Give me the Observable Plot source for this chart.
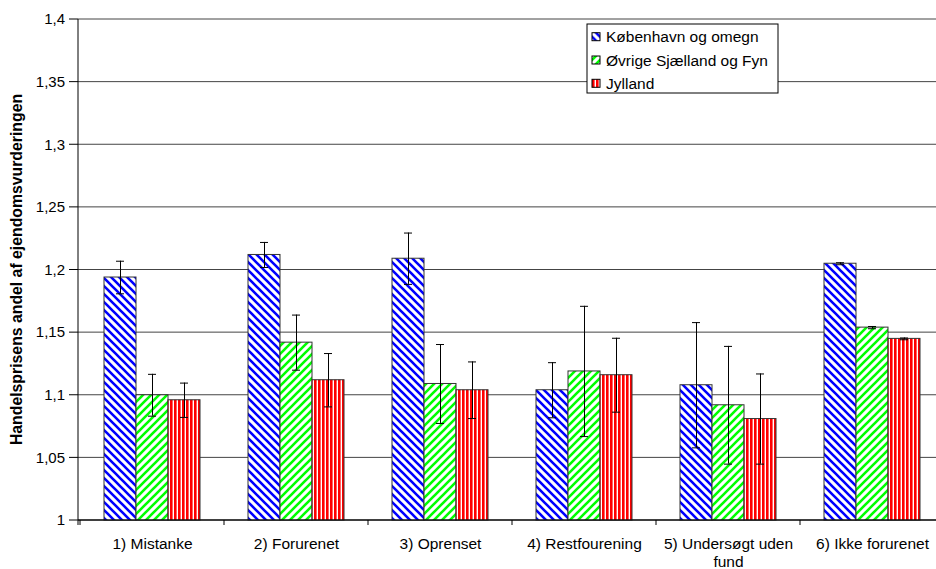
<!DOCTYPE html>
<html><head><meta charset="utf-8">
<script src="https://cdn.jsdelivr.net/npm/d3@7"></script>
<script src="https://cdn.jsdelivr.net/npm/@observablehq/plot@0.6"></script>
<style>html,body{margin:0;padding:0;background:#fff;} #chart{width:936px;height:569px;overflow:hidden;position:relative;}</style>
</head><body><div id="chart"></div>
<script>
const categories = ["1) Mistanke", "2) Forurenet", "3) Oprenset", "4) Restfourening", "5) Undersøgt uden fund", "6) Ikke forurenet"];
const categoryLabels = ["1) Mistanke", "2) Forurenet", "3) Oprenset", "4) Restfourening", "5) Undersøgt uden\nfund", "6) Ikke forurenet"];
const series = ["København og omegn", "Øvrige Sjælland og Fyn", "Jylland"];
const kbhValues = [1.194, 1.212, 1.209, 1.104, 1.108, 1.205];
const kbhErrors = [0.013, 0.010, 0.0205, 0.022, 0.050, 0.0008];
const sjfValues = [1.100, 1.142, 1.109, 1.119, 1.092, 1.154];
const sjfErrors = [0.0167, 0.022, 0.0315, 0.052, 0.047, 0.0009];
const jylValues = [1.096, 1.112, 1.104, 1.116, 1.081, 1.145];
const jylErrors = [0.0137, 0.0213, 0.0226, 0.0295, 0.036, 0.0007];
const yTicks = [1, 1.05, 1.1, 1.15, 1.2, 1.25, 1.3, 1.35, 1.4];
const yTickLabels = ["1", "1,05", "1,1", "1,15", "1,2", "1,25", "1,3", "1,35", "1,4"];
const yTitle = "Handelsprisens andel af ejendomsvurderingen";
const patternIds = ["hatchBlue", "hatchGreen", "hatchRed"];

const values = [kbhValues, sjfValues, jylValues];
const errors = [kbhErrors, sjfErrors, jylErrors];
const rows = categories.flatMap((c, i) => series.map((s, j) => ({category: c, series: s, value: values[j][i], err: errors[j][i]})));

const font = "'Liberation Sans', Arial, sans-serif";
const plot = Plot.plot({
  width: 936, height: 569,
  marginLeft: 78, marginRight: -10, marginTop: 19, marginBottom: 49,
  style: {fontFamily: font, fontSize: "15px", color: "#000", background: "#fff"},
  facet: {data: rows, x: "category"},
  fx: {domain: categories, paddingInner: 0.33, paddingOuter: 0.165, axis: null, label: null},
  x: {domain: series, padding: 0, axis: null},
  y: {domain: [1, 1.4], axis: null},
  color: {domain: series, range: patternIds.map(id => `url(#${id})`)},
  marks: [
    Plot.barY(rows, {x: "series", y1: 1, y2: "value", fill: "series", stroke: "#333", strokeWidth: 1}),
    Plot.ruleX(rows, {x: "series", y1: d => d.value - d.err, y2: d => d.value + d.err, stroke: "#000"}),
    Plot.tickY(rows, {x: "series", y: d => d.value + d.err, insetLeft: 12, insetRight: 12, stroke: "#000"}),
    Plot.tickY(rows, {x: "series", y: d => d.value - d.err, insetLeft: 12, insetRight: 12, stroke: "#000"}),
    Plot.axisFx({anchor: "bottom", tickSize: 0, tickPadding: 15, tickFormat: c => categoryLabels[categories.indexOf(c)], lineHeight: 1.2, fontSize: 15.5, label: null})
  ]
});
document.getElementById("chart").appendChild(plot);

const svg = d3.select(plot);
const defs = svg.insert("defs", ":first-child");
const pb = defs.append("pattern").attr("id", "hatchBlue").attr("patternUnits", "userSpaceOnUse").attr("width", 8).attr("height", 8);
pb.append("rect").attr("width", 8).attr("height", 8).attr("fill", "#fff");
pb.append("path").attr("d", "M-2,-2L10,10M-2,6L2,10M6,-2L10,2").attr("stroke", "#0000ff").attr("stroke-width", 2.6);
const pg = defs.append("pattern").attr("id", "hatchGreen").attr("patternUnits", "userSpaceOnUse").attr("width", 8).attr("height", 8);
pg.append("rect").attr("width", 8).attr("height", 8).attr("fill", "#fff");
pg.append("path").attr("d", "M-2,10L10,-2M-2,2L2,-2M6,10L10,6").attr("stroke", "#00ff00").attr("stroke-width", 2.6);
const pr = defs.append("pattern").attr("id", "hatchRed").attr("patternUnits", "userSpaceOnUse").attr("width", 4).attr("height", 4);
pr.append("rect").attr("width", 4).attr("height", 4).attr("fill", "#fff");
pr.append("rect").attr("width", 2.6).attr("height", 4).attr("fill", "#ff0000");

// frame elements drawn from Plot's own scales
const fx = plot.scale("fx"), y = plot.scale("y");
const xLeft = fx.range[0], xRight = fx.range[1];
const y0 = y.apply(1), yTop = y.apply(1.4);
const gridG = svg.insert("g", () => defs.node().nextSibling);
yTicks.forEach(t => gridG.append("line").attr("x1", xLeft).attr("x2", xRight).attr("y1", y.apply(t)).attr("y2", y.apply(t)).attr("stroke", t === 1 ? "#000" : "#444"));

const axisG = svg.append("g").attr("font-family", font);
const gap = (fx.step - fx.bandwidth) / 2;
axisG.append("line").attr("x1", xLeft).attr("x2", xLeft).attr("y1", yTop).attr("y2", y0 + 5).attr("stroke", "#000");
axisG.append("line").attr("x1", xLeft).attr("x2", xRight).attr("y1", y0).attr("y2", y0).attr("stroke", "#000");
categories.forEach(c => { const b = fx.apply(c) - gap; axisG.append("line").attr("x1", b).attr("x2", b).attr("y1", y0).attr("y2", y0 + 5).attr("stroke", "#000"); });
yTicks.forEach((t, i) => {
  const yy = y.apply(t);
  axisG.append("line").attr("x1", xLeft - 9).attr("x2", xLeft).attr("y1", yy).attr("y2", yy).attr("stroke", "#000");
  axisG.append("text").attr("x", xLeft - 13).attr("y", yy).attr("dy", "0.35em").attr("text-anchor", "end").attr("font-size", "15px").text(yTickLabels[i]);
});
axisG.append("text").attr("transform", `translate(${xLeft - 62},${(y0 + yTop) / 2}) rotate(-90)`).attr("text-anchor", "middle")
  .attr("dy", "0.35em").attr("font-weight", "bold").attr("font-size", "15.8px").text(yTitle);

// legend
const lg = svg.append("g").attr("transform", "translate(587,24)").attr("font-family", font).attr("text-anchor", "start");
lg.append("rect").attr("width", 191).attr("height", 69).attr("fill", "#fff").attr("stroke", "#000");
series.forEach((s, i) => {
  const row = lg.append("g").attr("transform", `translate(5,${12.7 + i * 23.3})`);
  row.append("rect").attr("x", 0).attr("y", -4).attr("width", 8).attr("height", 8).attr("fill", `url(#${patternIds[i]})`).attr("stroke", "#000");
  row.append("text").attr("x", 14).attr("dy", "0.36em").attr("text-anchor", "start").attr("font-size", "15.5px").text(s);
});
</script>
</body></html>
